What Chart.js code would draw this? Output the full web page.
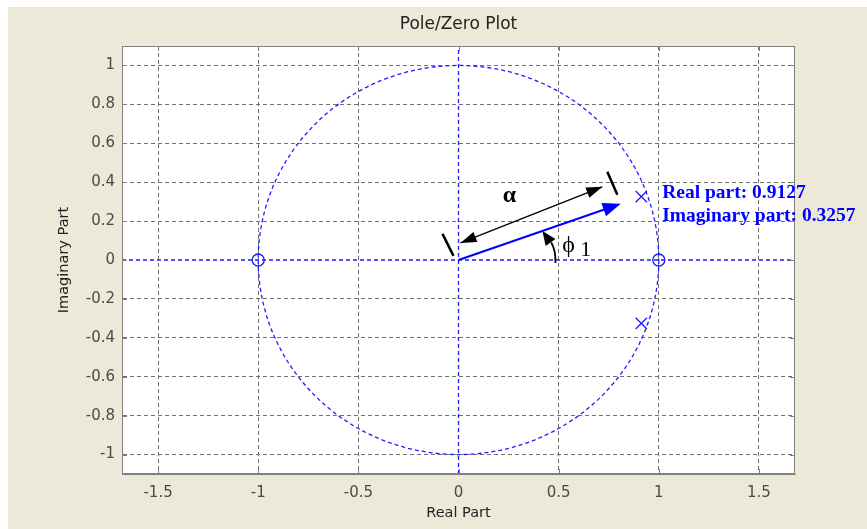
<!DOCTYPE html>
<html>
<head>
<meta charset="utf-8">
<script src="https://cdn.jsdelivr.net/npm/chart.js@4.4.1/dist/chart.umd.min.js"></script>
<style>
  html, body { margin: 0; padding: 0; background: #fff; }
  #wrap { width: 867px; height: 529px; }
</style>
</head>
<body>
<div id="wrap"><canvas id="pzChart" width="867" height="529"></canvas></div>
<script>
// axis ranges and tick labels
var xRange = [-1.68, 1.68];
var yRange = [-1.1, 1.1];
var xTicks = [-1.5, -1, -0.5, 0, 0.5, 1, 1.5];
var yTicks = [-1, -0.8, -0.6, -0.4, -0.2, 0, 0.2, 0.4, 0.6, 0.8, 1];

// zeros and poles
var zerosRe = [-1, 1];
var zerosIm = [0, 0];
var polesRe = [0.9127, 0.9127];
var polesIm = [0.3257, -0.3257];
var unitRadius = 1;

var BLUE = 'rgb(30, 30, 255)';
var GRID = '#707070';
var UI_FONT = 'DejaVu Sans';

function pts(re, im) {
    return re.map(function (v, i) { return { x: v, y: im[i] }; });
}

// background, white plot box, unit circle
var backPlugin = {
    id: 'backPlugin',
    beforeDraw: function (chart) {
        var ctx = chart.ctx, a = chart.chartArea;
        ctx.save();
        ctx.fillStyle = '#fff';
        ctx.fillRect(0, 0, chart.width, chart.height);
        ctx.fillStyle = '#ECE9D8';
        ctx.fillRect(8, 7, chart.width - 8, chart.height - 7);
        ctx.fillStyle = '#fff';
        ctx.fillRect(a.left, a.top, a.right - a.left, a.bottom - a.top);
        ctx.restore();
    },
    beforeDatasetsDraw: function (chart) {
        var ctx = chart.ctx, xs = chart.scales.x, ys = chart.scales.y;
        var cx = xs.getPixelForValue(0), cy = ys.getPixelForValue(0);
        var rx = xs.getPixelForValue(unitRadius) - cx;
        var ry = cy - ys.getPixelForValue(unitRadius);
        ctx.save();
        ctx.strokeStyle = BLUE;
        ctx.lineWidth = 1.3;
        ctx.setLineDash([4, 3]);
        ctx.beginPath();
        ctx.ellipse(cx, cy, rx, ry, 0, 0, Math.PI * 2);
        ctx.stroke();
        ctx.restore();
    }
};

function arrowHead(ctx, x1, y1, x2, y2, len, wid) {
    var ang = Math.atan2(y2 - y1, x2 - x1);
    ctx.beginPath();
    ctx.moveTo(x2, y2);
    ctx.lineTo(x2 - len * Math.cos(ang) + wid / 2 * Math.sin(ang), y2 - len * Math.sin(ang) - wid / 2 * Math.cos(ang));
    ctx.lineTo(x2 - len * Math.cos(ang) - wid / 2 * Math.sin(ang), y2 - len * Math.sin(ang) + wid / 2 * Math.cos(ang));
    ctx.closePath();
    ctx.fill();
}

// box, inward ticks and the hand-made annotations
var notePlugin = {
    id: 'notePlugin',
    afterDraw: function (chart) {
        var ctx = chart.ctx, a = chart.chartArea, xs = chart.scales.x, ys = chart.scales.y;
        var X = function (v) { return xs.getPixelForValue(v); };
        var Y = function (v) { return ys.getPixelForValue(v); };
        ctx.save();

        // box + ticks
        ctx.strokeStyle = '#808080';
        ctx.lineWidth = 1;
        ctx.strokeRect(a.left + 0.5, a.top + 0.5, a.right - a.left - 1, a.bottom - a.top - 1);
        ctx.beginPath();
        xTicks.forEach(function (t) {
            var px = Math.round(X(t)) + 0.5;
            ctx.moveTo(px, a.bottom); ctx.lineTo(px, a.bottom - 5);
            ctx.moveTo(px, a.top); ctx.lineTo(px, a.top + 5);
        });
        yTicks.forEach(function (t) {
            var py = Math.round(Y(t)) + 0.5;
            ctx.moveTo(a.left, py); ctx.lineTo(a.left + 5, py);
            ctx.moveTo(a.right, py); ctx.lineTo(a.right - 5, py);
        });
        ctx.stroke();

        // blue vector to the pole
        ctx.strokeStyle = '#0000ff';
        ctx.fillStyle = '#0000ff';
        ctx.lineWidth = 2;
        var bx1 = X(0), by1 = Y(0), bx2 = X(0.81), by2 = Y(0.289);
        var bang = Math.atan2(by2 - by1, bx2 - bx1);
        ctx.beginPath();
        ctx.moveTo(bx1, by1);
        ctx.lineTo(bx2 - 12 * Math.cos(bang), by2 - 12 * Math.sin(bang));
        ctx.stroke();
        arrowHead(ctx, bx1, by1, bx2, by2, 18, 14);

        // black double arrow (alpha)
        ctx.strokeStyle = '#000';
        ctx.fillStyle = '#000';
        ctx.lineWidth = 1.4;
        var ax1 = X(0.01), ay1 = Y(0.088), ax2 = X(0.718), ay2 = Y(0.376);
        ctx.beginPath();
        ctx.moveTo(ax1, ay1);
        ctx.lineTo(ax2, ay2);
        ctx.stroke();
        arrowHead(ctx, ax1, ay1, ax2, ay2, 16, 11);
        arrowHead(ctx, ax2, ay2, ax1, ay1, 16, 11);

        // end bars
        ctx.lineWidth = 2.5;
        ctx.beginPath();
        ctx.moveTo(X(-0.08), Y(0.134)); ctx.lineTo(X(-0.025), Y(0.021));
        ctx.moveTo(X(0.743), Y(0.454)); ctx.lineTo(X(0.793), Y(0.335));
        ctx.stroke();

        // angle arrow (curved)
        ctx.lineWidth = 1.8;
        ctx.beginPath();
        ctx.moveTo(X(0.484), Y(-0.015));
        ctx.quadraticCurveTo(X(0.486), Y(0.05), X(0.463), Y(0.09));
        ctx.stroke();
        arrowHead(ctx, X(0.47), Y(0.075), X(0.419), Y(0.149), 14, 12);

        // labels
        ctx.textBaseline = 'middle';
        ctx.textAlign = 'center';
        ctx.font = 'bold 24px "Liberation Serif"';
        ctx.fillText('\u03b1', X(0.254), Y(0.33));
        ctx.font = '24px "Liberation Serif"';
        ctx.fillText('\u03d5', X(0.55), Y(0.075));
        ctx.font = '22px "Liberation Serif"';
        ctx.fillText('1', X(0.635), Y(0.05));

        ctx.textAlign = 'left';
        ctx.fillStyle = '#0000ff';
        ctx.font = 'bold 19.5px "Liberation Serif"';
        ctx.fillText('Real part: ' + polesRe[0].toFixed(4), X(1.017), Y(0.342));
        ctx.fillText('Imaginary part: ' + polesIm[0].toFixed(4), X(1.017), Y(0.225));
        ctx.restore();
    }
};

var ctxPZ = document.getElementById('pzChart').getContext('2d');
var pzChart = new Chart(ctxPZ, {
    type: 'scatter',
    data: {
        datasets: [{
            // real axis
            data: [{ x: xRange[0], y: 0 }, { x: xRange[1], y: 0 }],
            showLine: true,
            borderColor: BLUE,
            borderWidth: 1.3,
            borderDash: [4, 3],
            pointRadius: 0
        }, {
            // imaginary axis
            data: [{ x: 0, y: yRange[0] }, { x: 0, y: yRange[1] }],
            showLine: true,
            borderColor: BLUE,
            borderWidth: 1.3,
            borderDash: [4, 3],
            pointRadius: 0
        }, {
            label: 'Zeros',
            data: pts(zerosRe, zerosIm),
            pointStyle: 'circle',
            pointRadius: 6,
            borderColor: BLUE,
            backgroundColor: 'rgba(0,0,0,0)',
            borderWidth: 1.4
        }, {
            label: 'Poles',
            data: pts(polesRe, polesIm),
            pointStyle: 'crossRot',
            pointRadius: 8,
            borderColor: BLUE,
            borderWidth: 1.3
        }]
    },
    options: {
        responsive: false,
        animation: false,
        events: [],
        layout: { padding: { left: 0, right: 72, top: 0, bottom: 0 } },
        plugins: {
            legend: { display: false },
            tooltip: { enabled: false },
            title: {
                display: true,
                text: 'Pole/Zero Plot',
                fullSize: false,
                color: '#222',
                font: { family: UI_FONT, size: 17, weight: 'normal' },
                padding: { top: 14.8, bottom: 10.8 }
            }
        },
        scales: {
            x: {
                type: 'linear',
                min: xRange[0],
                max: xRange[1],
                afterBuildTicks: function (s) { s.ticks = xTicks.map(function (v) { return { value: v }; }); },
                afterFit: function (s) { s.height = 55; },
                grid: {
                    drawTicks: false,
                    color: function (c) { return c.tick && c.tick.value === 0 ? 'rgba(0,0,0,0)' : GRID; }
                },
                border: { color: '#808080', dash: [4, 3] },
                ticks: {
                    color: '#4a4a4a',
                    padding: 10,
                    font: { family: UI_FONT, size: 15 },
                    callback: function (v) { return String(v); }
                },
                title: {
                    display: true,
                    text: 'Real Part',
                    color: '#222',
                    font: { family: UI_FONT, size: 14.5 },
                    padding: { top: 0, bottom: 7 }
                }
            },
            y: {
                type: 'linear',
                min: yRange[0],
                max: yRange[1],
                afterBuildTicks: function (s) { s.ticks = yTicks.map(function (v) { return { value: v }; }); },
                afterFit: function (s) { s.width = 122; },
                grid: {
                    drawTicks: false,
                    color: function (c) { return c.tick && c.tick.value === 0 ? 'rgba(0,0,0,0)' : GRID; }
                },
                border: { color: '#808080', dash: [4, 3] },
                ticks: {
                    color: '#4a4a4a',
                    padding: 7,
                    font: { family: UI_FONT, size: 15 },
                    callback: function (v) { return String(v); }
                },
                title: {
                    display: true,
                    text: 'Imaginary Part',
                    color: '#222',
                    font: { family: UI_FONT, size: 14.5 },
                    padding: { top: 56, bottom: 0 }
                }
            }
        }
    },
    plugins: [backPlugin, notePlugin]
});
</script>
</body>
</html>
